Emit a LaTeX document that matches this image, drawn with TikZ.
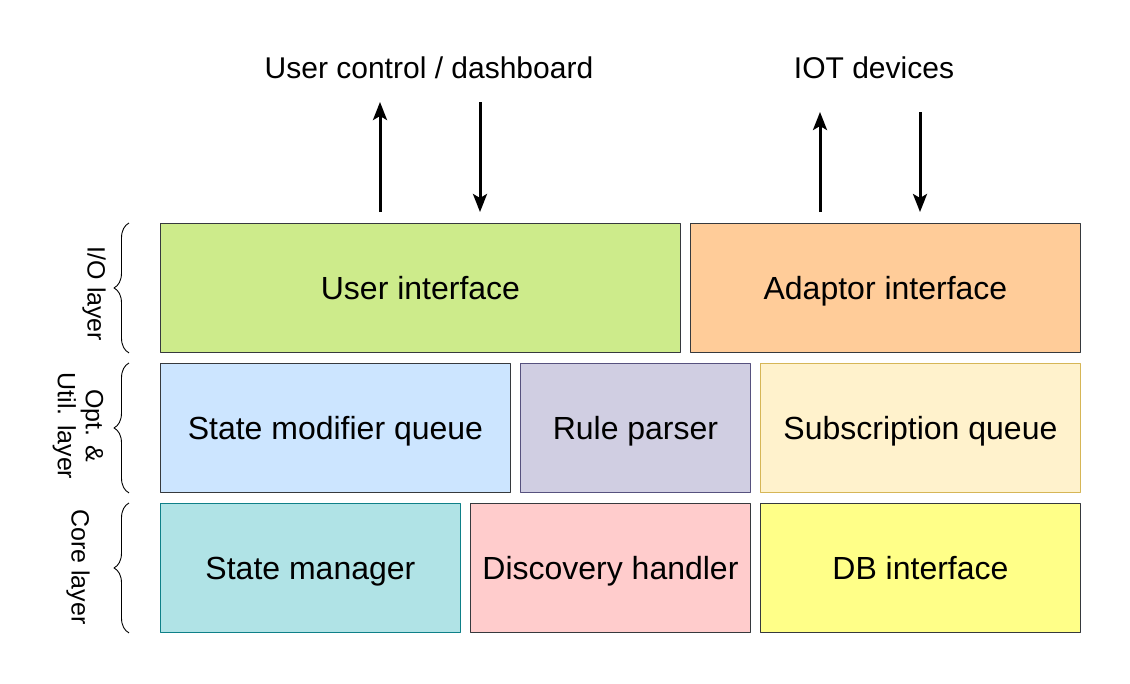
\documentclass[tikz,border=0pt]{standalone}
\usepackage{fontspec}
\setmainfont{Liberation Sans}
\usetikzlibrary{arrows.meta,decorations.pathreplacing}
\definecolor{uifill}{HTML}{CDEB8B}
\definecolor{adfill}{HTML}{FFCC99}
\definecolor{smqfill}{HTML}{CCE5FF}
\definecolor{rpfill}{HTML}{D0CEE2}
\definecolor{rpline}{HTML}{56517E}
\definecolor{sqfill}{HTML}{FFF2CC}
\definecolor{sqline}{HTML}{D6B656}
\definecolor{smfill}{HTML}{B0E3E6}
\definecolor{smline}{HTML}{0E8088}
\definecolor{dhfill}{HTML}{FFCCCC}
\definecolor{dbfill}{HTML}{FFFF88}
\definecolor{boxline}{HTML}{36393D}
\tikzset{
  layerbox/.style={draw=boxline, line width=0.9pt, anchor=north west, inner sep=0pt,
    text height=23pt, text depth=0pt, font=\fontsize{32}{38}\selectfont},
  layerbrace/.style={decorate, decoration={brace, amplitude=15pt}, line width=0.9pt},
  layerlabel/.style={rotate=-90, align=center, font=\fontsize{25}{28}\selectfont},
  toplabel/.style={text height=21.5pt, text depth=0pt, inner sep=0pt, font=\fontsize{30}{36}\selectfont}
}
\begin{document}
\begin{tikzpicture}[x=1pt,y=-1pt,line join=round,>={Stealth[length=18pt,width=14pt,inset=4pt]}]
\useasboundingbox (0,0) rectangle (1130,683);
% I/O layer
\node[layerbox, fill=uifill, minimum width=520pt, minimum height=129pt] (ui) at (160,223) {User interface};
\node[layerbox, fill=adfill, minimum width=390pt, minimum height=129pt] (ad) at (690,223) {Adaptor interface};
% opt. and util. layer
\node[layerbox, fill=smqfill, minimum width=350pt, minimum height=129pt] (smq) at (160,363) {State modifier queue};
\node[layerbox, fill=rpfill, draw=rpline, minimum width=230pt, minimum height=129pt] (rp) at (520,363) {Rule parser};
\node[layerbox, fill=sqfill, draw=sqline, minimum width=320pt, minimum height=129pt] (sq) at (760,363) {Subscription queue};
% core layer
\node[layerbox, fill=smfill, draw=smline, minimum width=300pt, minimum height=129pt] (sm) at (160,503) {State manager};
\node[layerbox, fill=dhfill, minimum width=280pt, minimum height=129pt] (dh) at (470,503) {Discovery handler};
\node[layerbox, fill=dbfill, minimum width=320pt, minimum height=129pt] (db) at (760,503) {DB interface};
% outside world
\node[toplabel] (user) at (429,68) {User control / dashboard};
\node[toplabel] (iot) at (874,68) {IOT devices};
\coordinate (uiOut) at (380,212); \coordinate (uiOutEnd) at (380,102);
\coordinate (uiIn) at (480,102); \coordinate (uiInEnd) at (480,212);
\coordinate (adOut) at (820,212); \coordinate (adOutEnd) at (820,112);
\coordinate (adIn) at (920,112); \coordinate (adInEnd) at (920,212);
\foreach \a/\b in {uiOut/uiOutEnd,uiIn/uiInEnd,adOut/adOutEnd,adIn/adInEnd}
  \draw[->, line width=3pt] (\a) -- (\b);
% braces
\draw[layerbrace] (ui.south west) ++(-31,0) coordinate (ioB) -- ([xshift=-31pt]ui.north west) coordinate (ioT);
\draw[layerbrace] (smq.south west) ++(-31,0) coordinate (ouB) -- ([xshift=-31pt]smq.north west) coordinate (ouT);
\draw[layerbrace] (sm.south west) ++(-31,0) coordinate (coB) -- ([xshift=-31pt]sm.north west) coordinate (coT);
\node[layerlabel] (ioL) at (94,294) {I/O layer};
\node[layerlabel] (ouL) at (78,426) {Opt. \&\\Util. layer};
\node[layerlabel] (coL) at (78,567) {Core layer};
\end{tikzpicture}
\end{document}
